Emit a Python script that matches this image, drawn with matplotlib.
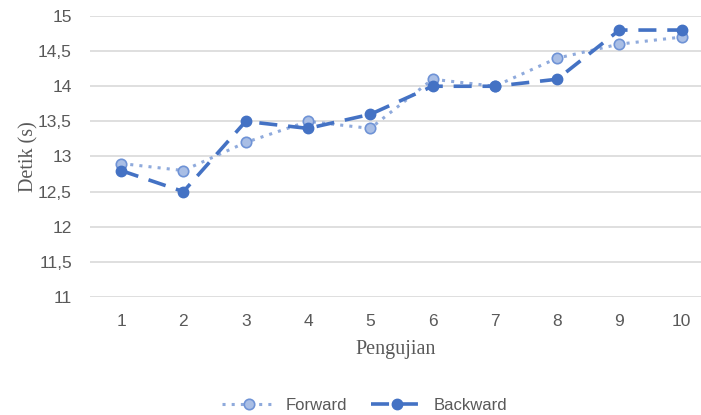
import matplotlib.pyplot as plt
from matplotlib.ticker import FuncFormatter

# data
pengujian = [1, 2, 3, 4, 5, 6, 7, 8, 9, 10]
forward = [12.9, 12.8, 13.2, 13.5, 13.4, 14.1, 14.0, 14.4, 14.6, 14.7]
backward = [12.8, 12.5, 13.5, 13.4, 13.6, 14.0, 14.0, 14.1, 14.8, 14.8]
y_ticks = [11, 11.5, 12, 12.5, 13, 13.5, 14, 14.5, 15]

sans = 'Liberation Sans'
serif = 'Liberation Serif'
grey = '#595959'

fig = plt.figure(figsize=(7.01, 4.15), dpi=100)
ax = fig.add_axes([90 / 701, 1 - 297 / 415, 611 / 701, 281 / 415])

ax.plot(pengujian, forward, linestyle=(0, (1, 2)), color='#8FAADC', linewidth=2.2,
        marker='o', markersize=7.5, markerfacecolor='#A9BEE5', markeredgecolor='#6F93D6',
        markeredgewidth=1.2, label='Forward', zorder=3)
ax.plot(pengujian, backward, linestyle=(0, (5, 3)), color='#4472C4', linewidth=2.6,
        marker='o', markersize=7.5, markerfacecolor='#4472C4', markeredgecolor='#4472C4',
        label='Backward', zorder=4)

ax.set_xlim(0.5, 10.31)
ax.set_ylim(11, 15)
ax.set_yticks(y_ticks)
ax.set_xticks(pengujian)
ax.yaxis.set_major_formatter(FuncFormatter(lambda v, p: ('%g' % v).replace('.', ',')))
ax.grid(axis='y', color='#D9D9D9', linewidth=1.2)
ax.set_axisbelow(True)
for s in ax.spines.values():
    s.set_visible(False)
ax.tick_params(length=0, labelsize=12.5, labelcolor=grey)
ax.tick_params(axis='y', pad=13)
ax.tick_params(axis='x', pad=12)
for lab in ax.get_xticklabels() + ax.get_yticklabels():
    lab.set_family(sans)

ax.set_ylabel('Detik (s)', family=serif, fontsize=14.5, color=grey, labelpad=0)
ax.set_xlabel('Pengujian', family=serif, fontsize=14.5, color=grey, labelpad=8)

leg = fig.legend(loc='center', bbox_to_anchor=(365 / 701, 1 - 405 / 415), ncol=2,
                 frameon=False, prop={'family': sans, 'size': 12},
                 handlelength=3.2, columnspacing=1.4, handletextpad=0.6)
for t in leg.get_texts():
    t.set_color(grey)

fig.savefig('out.png', dpi=100)
